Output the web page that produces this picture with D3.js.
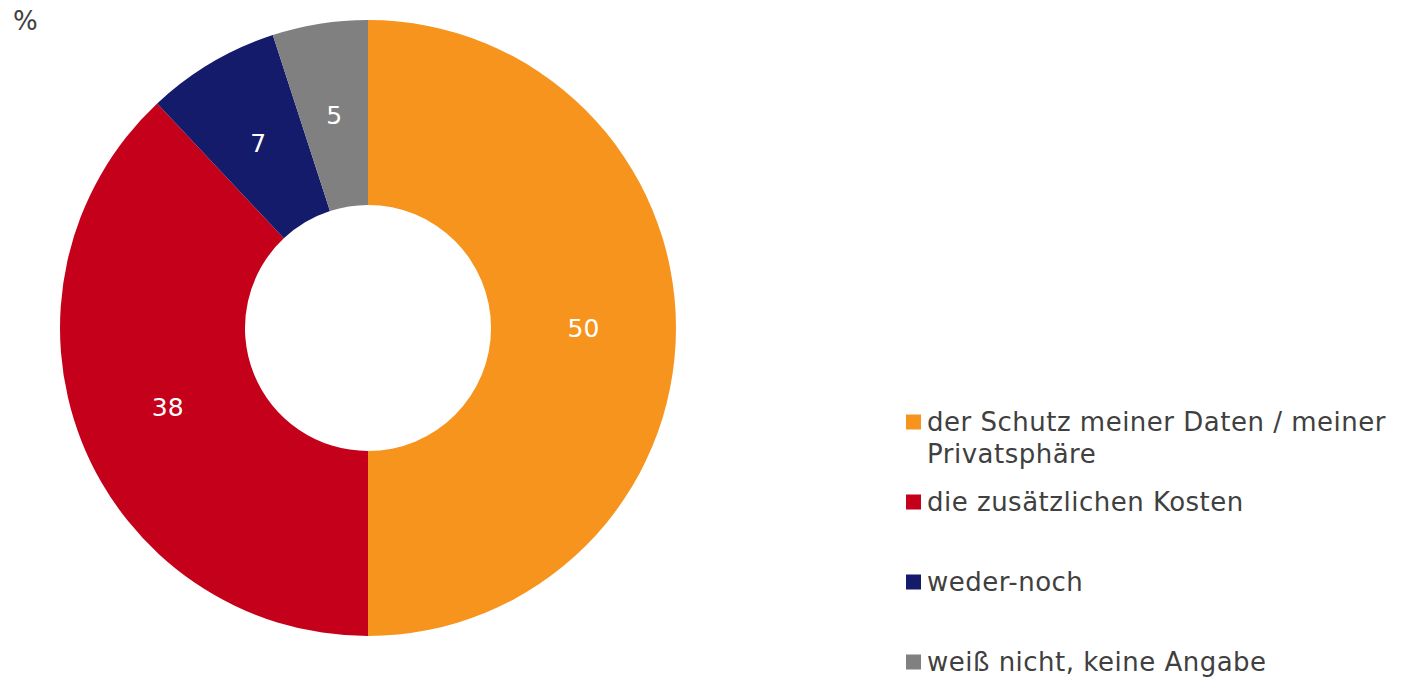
<!DOCTYPE html>
<html>
<head>
<meta charset="utf-8">
<script src="https://cdn.jsdelivr.net/npm/d3@7"></script>
<style>
  body { margin: 0; background: #fff; }
  text { font-family: "DejaVu Sans", Verdana, sans-serif; }
</style>
</head>
<body>
<div id="chart"></div>
<script>
// Data
const categories = ["der Schutz meiner Daten / meiner Privatsphäre", "die zusätzlichen Kosten", "weder-noch", "weiß nicht, keine Angabe"]
const values = [50, 38, 7, 5]
const colors = ["#F7941D", "#C4001A", "#141B6A", "#808080"]
const legendLines = [["der Schutz meiner Daten / meiner", "Privatsphäre"], ["die zusätzlichen Kosten"], ["weder-noch"], ["weiß nicht, keine Angabe"]]

const w = 1404, h = 677
const svg = d3.select("#chart").append("svg").attr("width", w).attr("height", h)

// unit label
svg.append("text").attr("x", 13).attr("y", 30)
    .attr("font-size", 26).attr("fill", "#404040").text("%")

// Donut
const cx = 368, cy = 328, rOuter = 308, rInner = 123
const pie = d3.pie().sort(null).value(d => d)
const arc = d3.arc().innerRadius(rInner).outerRadius(rOuter)
const arcs = pie(values)

const g = svg.append("g").attr("transform", `translate(${cx},${cy})`)
g.selectAll("path")
    .data(arcs)
    .enter()
    .append("path")
    .attr("d", arc)
    .attr("fill", (d, i) => colors[i])

g.selectAll("text.val")
    .data(arcs)
    .enter()
    .append("text")
    .attr("class", "val")
    .attr("transform", d => `translate(${arc.centroid(d)})`)
    .attr("text-anchor", "middle")
    .attr("dy", "0.36em")
    .attr("font-size", 25)
    .attr("fill", "#fff")
    .text(d => d.data)

// Legend
const legend = svg.append("g")
const legY = [422, 502, 582, 662]
categories.forEach((c, i) => {
    legend.append("rect")
        .attr("x", 906).attr("y", legY[i] - 7.5)
        .attr("width", 15).attr("height", 15)
        .attr("fill", colors[i])
    const t = legend.append("text")
        .attr("x", 927).attr("y", legY[i] + 9)
        .attr("font-size", 26).attr("letter-spacing", 0.5).attr("fill", "#404040")
    legendLines[i].forEach((l, j) => {
        t.append("tspan").attr("x", 927).attr("dy", j === 0 ? 0 : 32).text(l)
    })
})
</script>
</body>
</html>
